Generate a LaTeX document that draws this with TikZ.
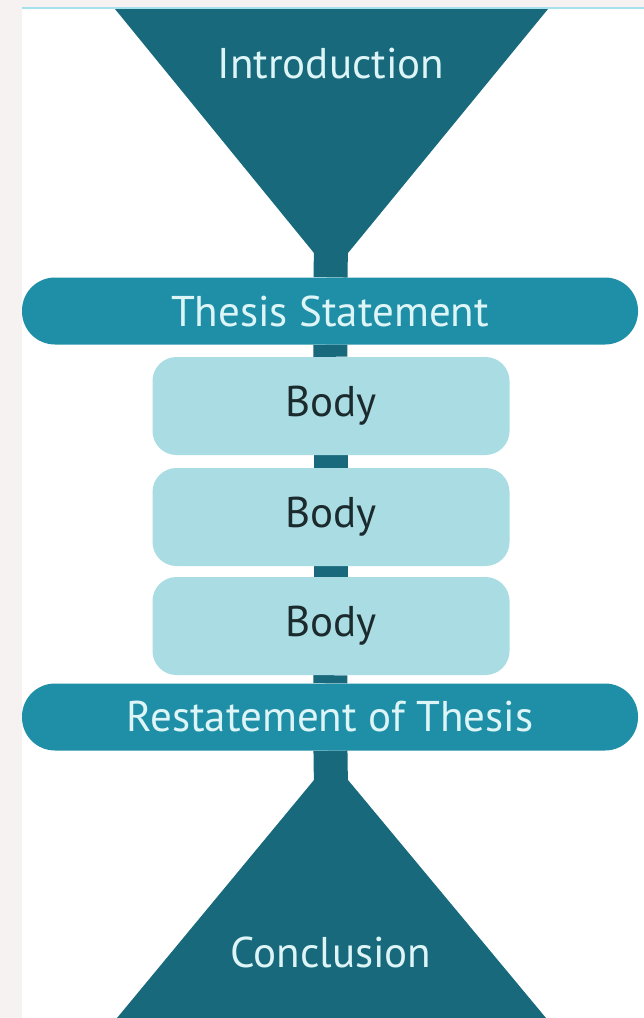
\documentclass[tikz,border=0pt]{standalone}
\usepackage{fontspec}
\setmainfont{PT Sans}
\usetikzlibrary{backgrounds}

\definecolor{darkteal}{HTML}{17697B}
\definecolor{barteal}{HTML}{1F8FA7}
\definecolor{bodyblue}{HTML}{A9DCE3}
\definecolor{paleink}{HTML}{DDF5F7}
\definecolor{bodyink}{HTML}{1B2A2D}
\definecolor{edgepink}{HTML}{F7F2F2}
\definecolor{topline}{HTML}{A6E0EC}

\tikzset{
  bigtext/.style={font=\fontsize{43}{46}\selectfont},
  bar/.style={bigtext, fill=barteal, text=paleink, rounded corners=33pt,
    minimum width=616pt, minimum height=67pt, inner sep=0pt},
  bodybox/.style={bigtext, fill=bodyblue, text=bodyink, rounded corners=24pt,
    minimum width=357pt, minimum height=98pt, inner sep=0pt},
  stem/.style={darkteal, line width=34pt}
}

\begin{document}
\begin{tikzpicture}[x=1pt, y=-1pt]
\useasboundingbox (0, 0) rectangle (644, 1018);

% funnels
\fill[darkteal] (115, 9) -- (548, 9) -- (348, 253) -- (314, 253) -- cycle;
\fill[darkteal] (314, 780) -- (348, 780) -- (546, 1018) -- (117, 1018) -- cycle;
\node[bigtext, text=paleink] (intro) at (331, 64) {Introduction};
\node[bigtext, text=paleink] (concl) at (331, 952) {Conclusion};

\coordinate (topneck) at (331, 245);
\coordinate (bottomneck) at (331, 790);

% middle part
\node[bar] (thesis) at (330, 311) {Thesis Statement};
\node[bodybox] (body1) at (331, 406) {Body};
\node[bodybox] (body2) at (331, 517) {Body};
\node[bodybox] (body3) at (331, 626) {Body};
\node[bar] (restate) at (330, 717) {Restatement of Thesis};

\begin{pgfonlayer}{background}
% page and margins
\fill[edgepink] (0, 0) rectangle (644, 1018);
\fill[white] (22, 8) rectangle (644, 1018);
\draw[topline, line width=2pt] (22, 8) -- (644, 8);
% neck
\draw[stem] (topneck) -- (thesis);
\draw[stem] (thesis) -- (body1);
\draw[stem] (body1) -- (body2);
\draw[stem] (body2) -- (body3);
\draw[stem] (body3) -- (restate);
\draw[stem] (restate) -- (bottomneck);
\end{pgfonlayer}

\end{tikzpicture}
\end{document}
